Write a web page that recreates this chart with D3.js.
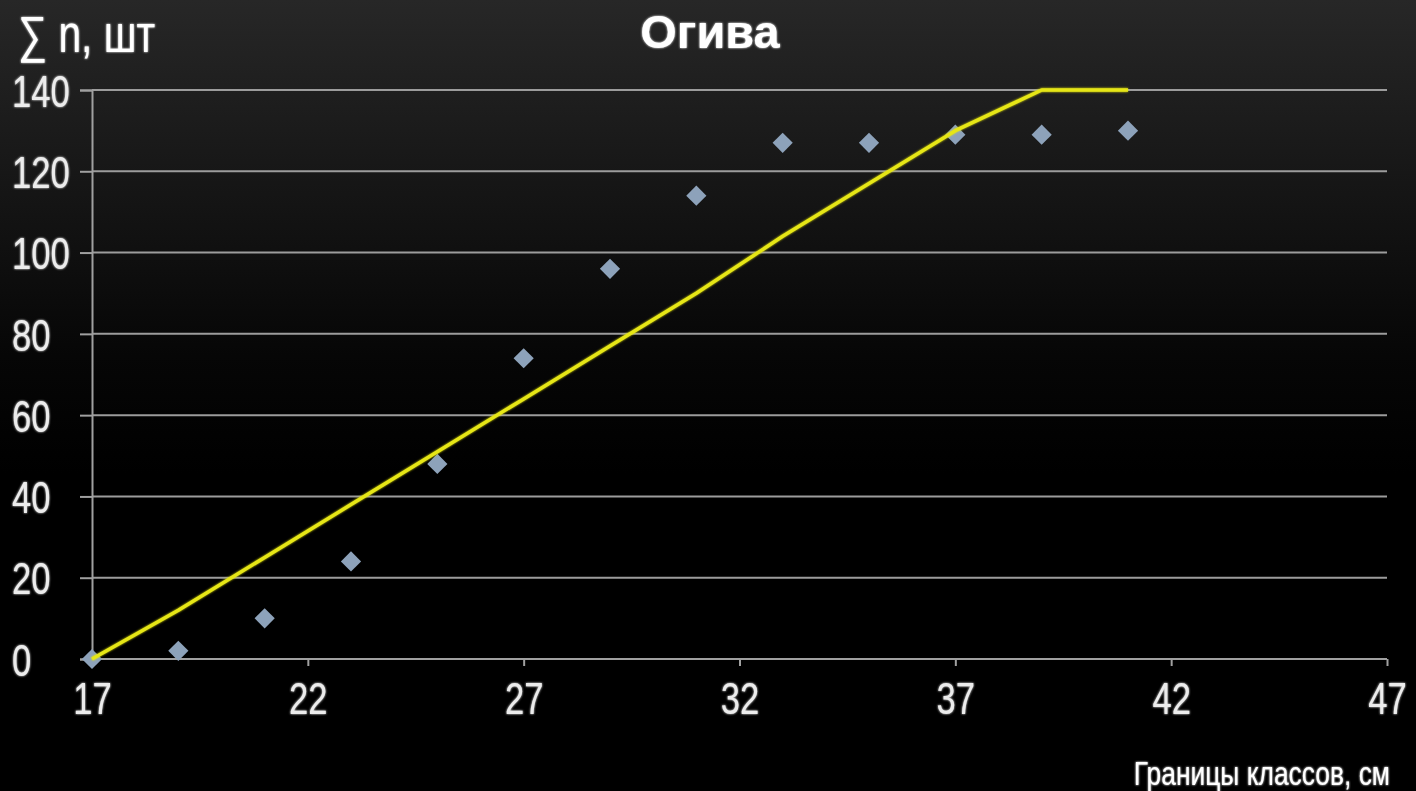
<!DOCTYPE html>
<html>
<head>
<meta charset="utf-8">
<script src="https://cdn.jsdelivr.net/npm/d3@7"></script>
<style>
  html, body { margin: 0; padding: 0; background: #000; }
  svg { display: block; }
  .tick text { fill: #ececec; font-family: "Liberation Sans", Arial, sans-serif; }
</style>
</head>
<body>
<svg width="1416" height="791"></svg>
<script>
// class boundaries (x) and cumulative counts
var classX = [17, 19, 21, 23, 25, 27, 29, 31, 33, 35, 37, 39, 41];
var cumN = [0, 2, 10, 24, 48, 74, 96, 114, 127, 127, 129, 129, 130];
// theoretical ogive (yellow line)
var ogive = [0, 12, 25, 38, 51, 64, 77, 90, 104, 117, 130, 140, 140];
var xTicks = [17, 22, 27, 32, 37, 42, 47];
var yTicks = [0, 20, 40, 60, 80, 100, 120, 140];

var svg = d3.select("svg");
var W = 1416, H = 791;
var narrow = 0.77; // no narrow font installed, squeeze glyphs instead

var defs = svg.append("defs");
var grad = defs.append("linearGradient").attr("id", "bg")
  .attr("x1", 0).attr("y1", 0).attr("x2", 0).attr("y2", 1);
grad.append("stop").attr("offset", "0%").attr("stop-color", "#272727");
grad.append("stop").attr("offset", "15%").attr("stop-color", "#1c1c1c");
grad.append("stop").attr("offset", "45%").attr("stop-color", "#060606");
grad.append("stop").attr("offset", "60%").attr("stop-color", "#000");
var glow = defs.append("filter").attr("id", "glow")
  .attr("x", "-10%").attr("y", "-10%").attr("width", "120%").attr("height", "120%");
glow.append("feGaussianBlur").attr("in", "SourceGraphic").attr("stdDeviation", 1.2).attr("result", "b");
var merge = glow.append("feMerge");
merge.append("feMergeNode").attr("in", "b");
merge.append("feMergeNode").attr("in", "SourceGraphic");

svg.append("rect").attr("width", W).attr("height", H).attr("fill", "url(#bg)");

var x = d3.scaleLinear().domain([17, 47]).range([92, 1387]);
var y = d3.scaleLinear().domain([0, 140]).range([659, 90]);

// horizontal grid
svg.append("g").selectAll("line").data(yTicks.slice(1)).enter().append("line")
  .attr("x1", x(17)).attr("x2", x(47))
  .attr("y1", function(d) { return y(d); }).attr("y2", function(d) { return y(d); })
  .attr("stroke", "#9c9c9c").attr("stroke-width", 2);

// y axis, labels left-aligned at the page edge
var yAxis = svg.append("g").attr("transform", "translate(" + x(17) + ",0)")
  .call(d3.axisLeft(y).tickValues(yTicks).tickSize(12).tickPadding(8));
yAxis.select(".domain").attr("stroke", "#a0a0a0").attr("stroke-width", 2);
yAxis.selectAll(".tick line").attr("stroke", "#a0a0a0").attr("stroke-width", 2);
yAxis.selectAll(".tick text").attr("font-size", 45).attr("dy", "0.36em")
  .attr("text-anchor", "start")
  .attr("x", (12 - x(17)) / narrow).attr("transform", "scale(" + narrow + ",1)")
  .attr("filter", "url(#glow)");

// x axis
var xAxis = svg.append("g").attr("transform", "translate(0," + y(0) + ")")
  .call(d3.axisBottom(x).tickValues(xTicks).tickSize(7).tickPadding(16));
xAxis.select(".domain").attr("stroke", "#a0a0a0").attr("stroke-width", 2)
  .attr("d", "M" + x(17) + ",0H" + x(47));
xAxis.selectAll(".tick line").attr("stroke", "#a0a0a0").attr("stroke-width", 2);
xAxis.selectAll(".tick text").attr("font-size", 45).attr("dy", "0.72em")
  .attr("transform", "scale(" + narrow + ",1)").attr("filter", "url(#glow)");

// diamonds
svg.append("g").selectAll("path").data(cumN).enter().append("path")
  .attr("d", d3.symbol().type(d3.symbolDiamond2).size(260))
  .attr("transform", function(d, i) { return "translate(" + x(classX[i]) + "," + y(d) + ")"; })
  .attr("fill", "#8da2ba");

// yellow ogive line
var line = d3.line()
  .x(function(d, i) { return x(classX[i]); })
  .y(function(d) { return y(d); });
svg.append("path").datum(ogive)
  .attr("d", line).attr("fill", "none")
  .attr("stroke", "#e6e614").attr("stroke-width", 3.5)
  .attr("stroke-linejoin", "round").attr("filter", "url(#glow)");

// titles
svg.append("text").attr("x", 710).attr("y", 48).attr("text-anchor", "middle")
  .attr("fill", "#fff").attr("font-size", 47).attr("font-weight", "bold")
  .attr("font-family", "Liberation Sans, Arial, sans-serif")
  .attr("filter", "url(#glow)").text("Огива");
svg.append("g").attr("transform", "translate(18,52) scale(0.8,1)")
  .append("text").attr("fill", "#fff").attr("font-size", 51)
  .attr("font-family", "Liberation Sans, Arial, sans-serif")
  .attr("filter", "url(#glow)").text("∑ n, шт");
svg.append("g").attr("transform", "translate(1390,785) scale(0.8,1)")
  .append("text").attr("text-anchor", "end")
  .attr("fill", "#fff").attr("font-size", 33)
  .attr("font-family", "Liberation Sans, Arial, sans-serif")
  .attr("filter", "url(#glow)").text("Границы классов, см");
</script>
</body>
</html>
